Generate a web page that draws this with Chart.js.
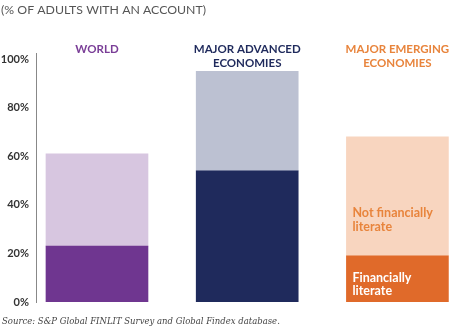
<!DOCTYPE html>
<html>
<head>
<meta charset="utf-8">
<script src="https://cdn.jsdelivr.net/npm/chart.js@4.4.0/dist/chart.umd.min.js"></script>
<style>
  html, body { margin: 0; padding: 0; background: #fff; }
  #wrap { position: relative; width: 456px; height: 329px; }
</style>
</head>
<body>
<div id="wrap"><canvas id="chart" width="456" height="329"></canvas></div>
<script>
// data
const categories = [["WORLD"], ["MAJOR ADVANCED", "ECONOMIES"], ["MAJOR EMERGING", "ECONOMIES"]]
const literate = [23, 54, 19]
const notLiterate = [38, 41, 49]
const yTicks = [0, 20, 40, 60, 80, 100]

const darkColors = ["#6f3690", "#1f2a5c", "#e06a2a"]
const lightColors = ["#d7c6e0", "#bcc1d2", "#f8d5bf"]
const headColors = ["#7a3e97", "#1f2a5c", "#e8843c"]

const toPoints = arr => arr.map((v, i) => ({ x: i, y: v }))

// text drawn on top: title, category heads, in-bar labels, source
const textPlugin = {
  id: "texts",
  afterDraw(chart) {
    const ctx = chart.ctx
    const xs = chart.scales.x
    ctx.save()
    ctx.textBaseline = "middle"

    ctx.fillStyle = "#555"
    ctx.font = "12.3px Lato"
    ctx.textAlign = "left"
    ctx.fillText("(% OF ADULTS WITH AN ACCOUNT)", 1, 10)

    ctx.font = "bold 11.5px Lato"
    ctx.textAlign = "center"
    categories.forEach((lines, i) => {
      ctx.fillStyle = headColors[i]
      lines.forEach((t, j) => ctx.fillText(t, xs.getPixelForValue(i), 49 + j * 14))
    })

    // labels inside the emerging bar
    const lit = chart.getDatasetMeta(0).data[2]
    const lx = lit.x - lit.width / 2 + 6
    ctx.textAlign = "left"
    ctx.font = "bold 12.5px Lato"
    ctx.fillStyle = "#e8843c"
    ctx.fillText("Not financially", lx, 213)
    ctx.fillText("literate", lx, 227)
    ctx.fillStyle = "#fff"
    ctx.fillText("Financially", lx, 278)
    ctx.fillText("literate", lx, 291)

    ctx.fillStyle = "#444"
    ctx.font = "italic 8.5px 'DejaVu Serif'"
    ctx.fillText("Source: S&P Global FINLIT Survey and Global Findex database.", 2, 322)
    ctx.restore()
  }
}

new Chart("chart", {
  type: "bar",
  data: {
    datasets: [{
      label: "Financially literate",
      data: toPoints(literate),
      backgroundColor: darkColors,
      barThickness: 102
    }, {
      label: "Not financially literate",
      data: toPoints(notLiterate),
      backgroundColor: lightColors,
      barThickness: 102
    }]
  },
  options: {
    responsive: false,
    animation: false,
    layout: { padding: { top: 53, bottom: 27, left: 0, right: 0 } },
    plugins: { legend: { display: false }, tooltip: { enabled: false } },
    scales: {
      x: {
        type: "linear",
        stacked: true,
        offset: false,
        min: -0.406,
        max: 2.39,
        display: false
      },
      y: {
        stacked: true,
        min: 0,
        max: 102.5,
        afterBuildTicks: s => { s.ticks = yTicks.map(v => ({ value: v })) },
        afterFit: s => { s.width = 36 },
        grid: { display: false, drawTicks: false },
        border: { display: true, color: "#888", width: 1 },
        ticks: {
          color: "#333",
          padding: 7,
          font: { family: "Lato", size: 11, weight: "bold" },
          callback: v => v + "%"
        }
      }
    }
  },
  plugins: [textPlugin]
})
</script>
</body>
</html>
